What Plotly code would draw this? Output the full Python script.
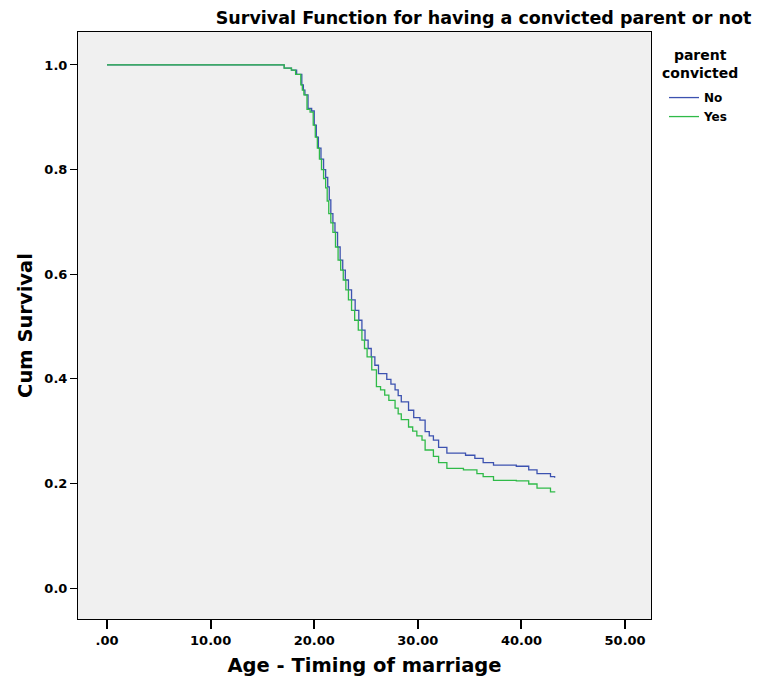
import plotly.graph_objects as go

# Kaplan-Meier step points
no_time = [0, 17.1, 17.8, 18.3, 18.8, 18.95, 19.1, 19.4, 19.75, 20.0, 20.2, 20.4, 20.65, 20.9,
           21.1, 21.3, 21.45, 21.6, 21.8, 22.0, 22.25, 22.5, 22.75, 23.0, 23.3, 23.6, 23.95,
           24.3, 24.6, 24.9, 25.2, 25.5, 25.85, 26.2, 27.0, 27.4, 27.8, 28.1, 28.4, 29.1,
           29.6, 30.2, 30.7, 31.1, 31.5, 32.0, 32.8, 34.6, 35.5, 36.3, 37.3, 39.5, 40.7,
           41.5, 42.8, 43.2]
no_surv = [1.0, 0.994, 0.990, 0.982, 0.962, 0.952, 0.943, 0.917, 0.912, 0.885, 0.862, 0.841,
           0.820, 0.800, 0.785, 0.767, 0.742, 0.716, 0.698, 0.680, 0.652, 0.627, 0.608, 0.589,
           0.570, 0.551, 0.531, 0.512, 0.493, 0.474, 0.458, 0.442, 0.426, 0.410, 0.399,
           0.390, 0.379, 0.368, 0.356, 0.340, 0.326, 0.321, 0.299, 0.291, 0.283, 0.269,
           0.258, 0.254, 0.248, 0.240, 0.235, 0.233, 0.226, 0.219, 0.213, 0.211]

yes_time = [0, 17.1, 17.8, 18.2, 18.7, 18.85, 19.0, 19.3, 19.6, 19.9, 20.1, 20.3, 20.5, 20.7,
            20.9, 21.1, 21.25, 21.4, 21.6, 21.8, 22.05, 22.3, 22.55, 22.8, 23.05, 23.3, 23.6,
            23.9, 24.25, 24.6, 24.85, 25.1, 25.55, 26.0, 26.4, 26.8, 27.2, 27.8, 28.1, 28.4,
            29.1, 29.5, 29.9, 30.4, 30.7, 31.5, 32.0, 32.8, 34.4, 35.7, 36.3, 37.3, 39.5,
            40.7, 41.5, 42.8, 43.2]
yes_surv = [1.0, 0.994, 0.990, 0.982, 0.962, 0.952, 0.943, 0.915, 0.910, 0.885, 0.862, 0.841,
            0.820, 0.800, 0.783, 0.765, 0.740, 0.716, 0.698, 0.680, 0.652, 0.627, 0.608,
            0.589, 0.570, 0.551, 0.531, 0.512, 0.493, 0.474, 0.458, 0.442, 0.417, 0.385,
            0.379, 0.369, 0.359, 0.344, 0.333, 0.322, 0.308, 0.300, 0.291, 0.283, 0.264,
            0.252, 0.240, 0.229, 0.226, 0.219, 0.213, 0.206, 0.205, 0.199, 0.191, 0.184,
            0.183]

x_ticks = [0, 10, 20, 30, 40, 50]
x_tick_labels = [".00", "10.00", "20.00", "30.00", "40.00", "50.00"]
y_ticks = [0.0, 0.2, 0.4, 0.6, 0.8, 1.0]
y_tick_labels = ["0.0", "0.2", "0.4", "0.6", "0.8", "1.0"]

FONT = "DejaVu Sans, Arial, sans-serif"
BLUE = "#3c52b0"
GREEN = "#2fba48"

# page body has an 8px margin; figure sized so the plot frame lands where the reference has it
W, H = 754, 675

fig = go.Figure()
fig.add_trace(go.Scatter(x=no_time, y=no_surv, mode="lines", name="No",
                         line=dict(color=BLUE, width=1.3, shape="hv")))
fig.add_trace(go.Scatter(x=yes_time, y=yes_surv, mode="lines", name="Yes",
                         line=dict(color=GREEN, width=1.3, shape="hv")))

fig.update_layout(
    width=W, height=H,
    margin=dict(l=70, r=111, t=24, b=64),
    paper_bgcolor="white",
    plot_bgcolor="#f0f0f0",
    font=dict(family=FONT, color="black"),
    title=dict(text="<b>Survival Function for having a convicted parent or not</b>",
               font=dict(size=17.5, family=FONT, color="black"),
               xref="container", x=(483.5 - 8) / W, xanchor="center",
               yref="container", y=1 - 10 / H, yanchor="middle"),
    showlegend=True,
    legend=dict(
        x=(664 - 78) / 573, xanchor="left", y=0.913, yanchor="top",
        bgcolor="rgba(0,0,0,0)",
        font=dict(size=12, family=FONT, color="black", weight="bold"),
        tracegroupgap=0, itemwidth=30,
    ),
    annotations=[dict(
        text="<b>parent<br>convicted</b>", xref="paper", yref="paper",
        x=(700 - 78) / 573, y=(619 - 64) / 587, xanchor="center", yanchor="middle",
        showarrow=False, align="center",
        font=dict(size=14, family=FONT, color="black"),
    )],
)

fig.update_xaxes(
    range=[-2.8, 52.5], tickmode="array", tickvals=x_ticks, ticktext=x_tick_labels,
    ticks="outside", ticklen=9, tickcolor="black", tickwidth=1.5,
    showgrid=False, zeroline=False,
    showline=True, linecolor="black", linewidth=1, mirror=True,
    tickfont=dict(size=13, family=FONT, color="black", weight="bold"),
    title=dict(text="<b>Age - Timing of marriage</b>", font=dict(size=19.5, family=FONT),
               standoff=11),
)
fig.update_yaxes(
    range=[-0.059, 1.063], tickmode="array", tickvals=y_ticks, ticktext=y_tick_labels,
    ticks="outside", ticklen=7, tickcolor="black", tickwidth=1,
    showgrid=False, zeroline=False,
    showline=True, linecolor="black", linewidth=1, mirror=True,
    tickfont=dict(size=13, family=FONT, color="black", weight="bold"),
    title=dict(text="<b>Cum Survival</b>", font=dict(size=19.5, family=FONT),
               standoff=6),
)

fig.write_html("out.html")
